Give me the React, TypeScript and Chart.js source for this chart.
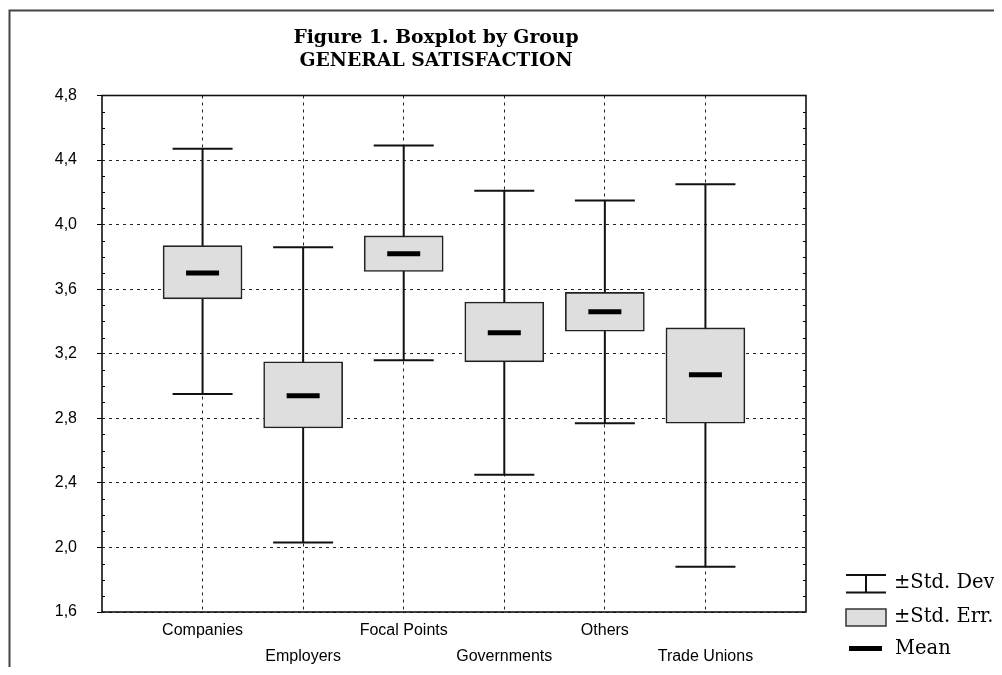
import React, { useEffect, useRef } from 'react';
import { Chart, registerables } from 'chart.js';

Chart.register(...registerables);

// ---- data ----
const categories = ['Companies', 'Employers', 'Focal Points', 'Governments', 'Others', 'Trade Unions'];
const means = [3.7, 2.94, 3.82, 3.33, 3.46, 3.07];
const seLow = [3.54, 2.74, 3.71, 3.15, 3.34, 2.77];
const seHigh = [3.87, 3.15, 3.93, 3.52, 3.58, 3.36];
const sdLow = [2.95, 2.03, 3.16, 2.45, 2.77, 1.88];
const sdHigh = [4.47, 3.86, 4.49, 4.21, 4.15, 4.25];
const yTicks = [1.6, 2.0, 2.4, 2.8, 3.2, 3.6, 4.0, 4.4, 4.8];
const titleLines = ['Figure 1. Boxplot by Group', 'GENERAL SATISFACTION'];
const legendLabels = ['\u00b1Std. Dev.', '\u00b1Std. Err.', 'Mean'];

const SANS = '"Liberation Sans", Arial, sans-serif';
const SERIF = '"DejaVu Serif", serif';

export default function App() {
  const ref = useRef<HTMLCanvasElement>(null);

  useEffect(() => {
    const canvas = ref.current as HTMLCanvasElement;
    const xPos = categories.map((_, i) => i + 1);

    const whiskerData: any[] = [];
    xPos.forEach((x, i) => {
      whiskerData.push({ x, y: sdLow[i] }, { x, y: sdHigh[i] }, { x, y: null });
    });
    const capData = [
      ...xPos.map((x, i) => ({ x, y: sdLow[i] })),
      ...xPos.map((x, i) => ({ x, y: sdHigh[i] })),
    ];
    const meanData = xPos.map((x, i) => ({ x, y: means[i] }));
    const boxData = xPos.map((x, i) => ({ x, y: [seLow[i], seHigh[i]] }));

    const decor = {
      id: 'decor',
      beforeDraw(chart: any) {
        const ctx = chart.ctx;
        ctx.save();
        ctx.strokeStyle = '#444';
        ctx.lineWidth = 2;
        ctx.beginPath();
        ctx.moveTo(1.5, chart.height);
        ctx.lineTo(1.5, 2.5);
        ctx.lineTo(chart.width, 2.5);
        ctx.stroke();
        ctx.restore();
      },
      afterDatasetsDraw(chart: any) {
        const ctx = chart.ctx;
        const a = chart.chartArea;
        const ys = chart.scales.y;
        ctx.save();
        ctx.strokeStyle = '#111';
        ctx.lineWidth = 1.6;
        ctx.strokeRect(a.left, a.top, a.right - a.left, a.bottom - a.top);
        // minor ticks
        ctx.lineWidth = 1;
        ctx.strokeStyle = '#000';
        ctx.beginPath();
        for (let t = 0; t < yTicks.length - 1; t++) {
          const step = (yTicks[t + 1] - yTicks[t]) / 4;
          for (let k = 1; k < 4; k++) {
            const py = Math.round(ys.getPixelForValue(yTicks[t] + step * k)) + 0.5;
            ctx.moveTo(a.left, py);
            ctx.lineTo(a.left + 3, py);
            ctx.moveTo(a.right - 3, py);
            ctx.lineTo(a.right, py);
          }
        }
        ctx.stroke();
        ctx.restore();
      },
      afterDraw(chart: any) {
        const ctx = chart.ctx;
        ctx.save();
        // title
        ctx.fillStyle = '#000';
        ctx.font = 'bold 18.8px ' + SERIF;
        ctx.textAlign = 'center';
        ctx.textBaseline = 'alphabetic';
        ctx.fillText(titleLines[0], 428, 34.7);
        ctx.fillText(titleLines[1], 428, 57.5);
        // legend
        const ix0 = 838, ix1 = 878;
        ctx.strokeStyle = '#111';
        ctx.lineWidth = 2;
        ctx.beginPath();
        ctx.moveTo(ix0, 567); ctx.lineTo(ix1, 567);
        ctx.moveTo(ix0, 584.5); ctx.lineTo(ix1, 584.5);
        ctx.moveTo((ix0 + ix1) / 2, 567); ctx.lineTo((ix0 + ix1) / 2, 584.5);
        ctx.stroke();
        ctx.fillStyle = '#dedede';
        ctx.fillRect(ix0, 601, ix1 - ix0, 17);
        ctx.strokeStyle = '#333';
        ctx.lineWidth = 1.5;
        ctx.strokeRect(ix0, 601, ix1 - ix0, 17);
        ctx.strokeStyle = '#000';
        ctx.lineWidth = 5;
        ctx.beginPath();
        ctx.moveTo(841, 640.5); ctx.lineTo(874, 640.5);
        ctx.stroke();
        ctx.fillStyle = '#000';
        ctx.font = '19.5px ' + SERIF;
        ctx.textAlign = 'left';
        ctx.textBaseline = 'middle';
        ctx.fillText(legendLabels[0], 886, 575);
        ctx.fillText(legendLabels[1], 886, 609);
        ctx.fillText(legendLabels[2], 887, 641);
        ctx.restore();
      },
    };

    const chart = new Chart(canvas, {
      type: 'bar',
      data: {
        datasets: [
          {
            type: 'line',
            data: whiskerData,
            borderColor: '#111',
            borderWidth: 2,
            pointRadius: 0,
            spanGaps: false,
            order: 3,
          } as any,
          {
            type: 'line',
            data: capData,
            showLine: false,
            pointStyle: 'line',
            pointRadius: 30,
            pointBorderWidth: 2,
            pointBorderColor: '#111',
            order: 3,
          } as any,
          {
            type: 'bar',
            data: boxData,
            backgroundColor: '#dedede',
            borderColor: '#222',
            borderWidth: 1.6,
            borderSkipped: false,
            barThickness: 79,
            order: 2,
          } as any,
          {
            type: 'line',
            data: meanData,
            showLine: false,
            pointStyle: 'line',
            pointRadius: 16.5,
            pointBorderWidth: 5,
            pointBorderColor: '#000',
            order: 1,
          } as any,
        ],
      },
      options: {
        responsive: false,
        animation: false,
        events: [],
        layout: { padding: { top: 87.5, right: 196, bottom: 0, left: 0 } },
        plugins: { legend: { display: false }, tooltip: { enabled: false }, title: { display: false } },
        scales: {
          x: {
            type: 'linear',
            min: 0,
            max: 7,
            offset: false,
            afterBuildTicks: (s: any) => {
              s.ticks = xPos.map((v) => ({ value: v }));
            },
            afterFit: (s: any) => {
              s.height = 55;
            },
            grid: { offset: false, drawTicks: false, color: '#222', lineWidth: 1 },
            border: { display: false, dash: [3, 4] },
            ticks: {
              autoSkip: false,
              maxRotation: 0,
              minRotation: 0,
              padding: 6,
              color: '#000',
              font: { family: SANS, size: 16, lineHeight: '26px' },
              callback: (v: any) => {
                const i = Math.round(Number(v)) - 1;
                if (i < 0 || i >= categories.length) return '';
                return i % 2 === 0 ? [categories[i]] : ['', categories[i]];
              },
            },
          },
          y: {
            type: 'linear',
            min: 1.6,
            max: 4.8,
            beginAtZero: false,
            afterBuildTicks: (s: any) => {
              s.ticks = yTicks.map((v) => ({ value: v }));
            },
            afterFit: (s: any) => {
              s.width = 94;
            },
            grid: { color: '#222', lineWidth: 1, drawTicks: true, tickLength: 5, tickColor: '#000', tickWidth: 1 },
            border: { display: false, dash: [3, 4] },
            ticks: {
              padding: 20,
              color: '#000',
              font: { family: SANS, size: 16 },
              callback: (v: any) => Number(v).toFixed(1).replace('.', ','),
            },
          },
        },
      } as any,
      plugins: [decor],
    });

    return () => chart.destroy();
  }, []);

  return (
    <div style={{ width: 994, height: 659 }}>
      <canvas ref={ref} width={994} height={659} style={{ display: 'block' }} />
    </div>
  );
}
